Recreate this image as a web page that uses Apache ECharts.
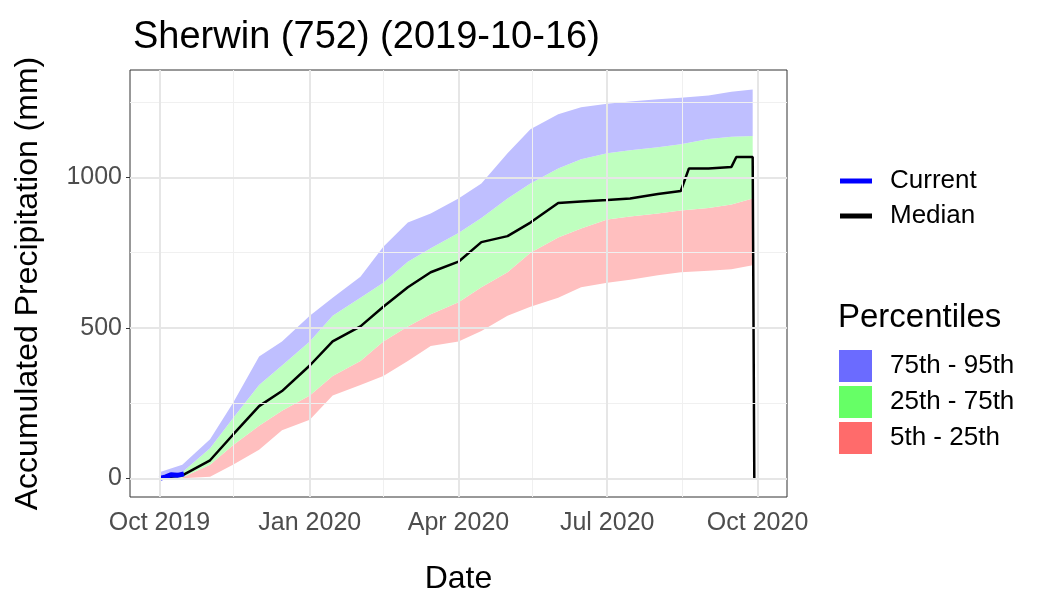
<!DOCTYPE html>
<html>
<head>
<meta charset="utf-8">
<script src="https://cdn.jsdelivr.net/npm/echarts@6/dist/echarts.min.js"></script>
<style>html,body{margin:0;padding:0;background:#fff}#c{width:1050px;height:600px}</style>
</head>
<body>
<div id="c"></div>
<script>
// dates of the percentile curves (water year Oct 2019 - Sep 2020)
const dates = ['2019-10-01','2019-10-15','2019-11-01','2019-11-15','2019-12-01','2019-12-15',
  '2020-01-01','2020-01-15','2020-02-01','2020-02-15','2020-03-01','2020-03-15','2020-04-01',
  '2020-04-15','2020-05-01','2020-05-15','2020-06-01','2020-06-15','2020-07-01','2020-07-15',
  '2020-08-01','2020-08-15','2020-09-01','2020-09-15','2020-09-28'];
const p5  = [0,0,5,45,95,160,195,275,310,340,390,440,455,490,540,570,600,635,650,660,675,685,690,695,708];
const p25 = [0,3,45,110,175,225,275,340,390,455,505,545,585,635,685,750,800,830,860,870,880,890,898,910,930];
const p75 = [5,20,100,200,310,375,455,540,600,650,720,765,815,865,930,980,1030,1060,1080,1090,1100,1110,1128,1135,1138];
const p95 = [20,45,130,250,405,455,540,600,670,770,850,880,930,980,1080,1160,1210,1233,1245,1252,1260,1265,1272,1285,1292];
const medianDates = ['2019-10-01','2019-10-15','2019-11-01','2019-11-15','2019-12-01','2019-12-15',
  '2020-01-01','2020-01-15','2020-02-01','2020-02-15','2020-03-01','2020-03-15','2020-04-01',
  '2020-04-15','2020-05-01','2020-05-15','2020-06-01','2020-06-15','2020-07-01','2020-07-15',
  '2020-08-01','2020-08-15','2020-08-20','2020-09-01','2020-09-15','2020-09-18','2020-09-28','2020-09-28'];
const median = [0,10,60,145,240,290,375,455,505,570,635,685,720,785,805,850,915,920,925,930,945,955,1030,1030,1035,1068,1068,0];
const currentDates = ['2019-10-01','2019-10-05','2019-10-08','2019-10-12','2019-10-16'];
const current = [0,5,12,10,15];
const majorX = ['2019-10-01','2020-01-01','2020-04-01','2020-07-01','2020-10-01'];
const majorXLabels = ['Oct 2019','Jan 2020','Apr 2020','Jul 2020','Oct 2020'];
const minorX = ['2019-11-15','2020-02-15','2020-05-16','2020-08-16'];
const majorY = [0,500,1000];
const minorY = [250,750,1250];

const t = d => new Date(d + 'T00:00:00Z').getTime();
const band = (arr, lo) => dates.map((d, i) => [t(d), lo ? arr[i] - lo[i] : arr[i]]);
const chart = echarts.init(document.getElementById('c'));
const grid = (c, w) => ({ silent: true, symbol: 'none', label: { show: false }, lineStyle: { color: c, width: w, type: 'solid' } });
chart.setOption({
  animation: false,
  title: { text: 'Sherwin (752) (2019-10-16)', left: 128, top: 14,
    textStyle: { fontFamily: 'Liberation Sans', fontSize: 38, fontWeight: 'normal', color: '#000' } },
  grid: { left: 130, right: 263, top: 70, bottom: 97, show: true, borderColor: '#333', borderWidth: 1 },
  xAxis: { type: 'time', min: t('2019-09-13'), max: t('2020-10-19'),
    axisLine: { show: false }, axisTick: { show: false }, axisLabel: { show: false }, splitLine: { show: false },
    name: 'Date', nameLocation: 'middle', nameGap: 66,
    nameTextStyle: { fontFamily: 'Liberation Sans', fontSize: 32, color: '#000' } },
  yAxis: { type: 'value', min: -62, max: 1357,
    axisLine: { show: false }, splitLine: { show: false },
    axisTick: { show: true, customValues: majorY, length: 4, lineStyle: { color: '#333' } },
    axisLabel: { customValues: majorY, formatter: v => String(v), fontFamily: 'Liberation Sans', fontSize: 25, color: '#4d4d4d', margin: 8 },
    name: 'Accumulated Precipitation (mm)', nameLocation: 'middle', nameGap: 86,
    nameTextStyle: { fontFamily: 'Liberation Sans', fontSize: 32, color: '#000' } },
  series: [
    { type: 'line', data: [], markLine: Object.assign(grid('#f0f0f0', 1),
        { data: minorX.map(d => ({ xAxis: t(d) })).concat(minorY.map(v => ({ yAxis: v }))) }) },
    { type: 'line', data: [], markLine: Object.assign(grid('#e6e6e6', 2),
        { data: majorY.map(v => ({ yAxis: v })) }) },
    { type: 'line', data: [], markLine: Object.assign(grid('#e6e6e6', 2),
        { label: { show: true, position: 'start', distance: 14, formatter: p => majorXLabels[p.dataIndex],
            fontFamily: 'Liberation Sans', fontSize: 25, color: '#4d4d4d' },
          data: majorX.map(d => ({ xAxis: t(d) })) }) },
    { name: 'base', type: 'line', stack: 'b', data: band(p5), symbol: 'none', lineStyle: { width: 0 } },
    { name: '5th - 25th', type: 'line', stack: 'b', data: band(p25, p5), symbol: 'none', lineStyle: { width: 0 },
      areaStyle: { color: '#ffbfbf', opacity: 1 } },
    { name: '25th - 75th', type: 'line', stack: 'b', data: band(p75, p25), symbol: 'none', lineStyle: { width: 0 },
      areaStyle: { color: '#bfffbf', opacity: 1 } },
    { name: '75th - 95th', type: 'line', stack: 'b', data: band(p95, p75), symbol: 'none', lineStyle: { width: 0 },
      areaStyle: { color: '#bfbfff', opacity: 1 } },
    { name: 'Median', type: 'line', data: medianDates.map((d, i) => [t(d) + (i === medianDates.length - 1 ? 86400000 : 0), median[i]]),
      symbol: 'none', lineStyle: { color: '#000', width: 2.5 } },
    { name: 'Current', type: 'line', data: currentDates.map((d, i) => [t(d), current[i]]),
      symbol: 'none', lineStyle: { color: '#0000ff', width: 5 } }
  ],
  graphic: [
    { type: 'line', shape: { x1: 840, y1: 181, x2: 872, y2: 181 }, style: { stroke: '#0000ff', lineWidth: 5 } },
    { type: 'text', left: 890, top: 168, style: { text: 'Current', font: '26px "Liberation Sans"', fill: '#000' } },
    { type: 'line', shape: { x1: 840, y1: 216, x2: 872, y2: 216 }, style: { stroke: '#000', lineWidth: 5 } },
    { type: 'text', left: 890, top: 203, style: { text: 'Median', font: '26px "Liberation Sans"', fill: '#000' } },
    { type: 'text', left: 838, top: 301, style: { text: 'Percentiles', font: '33px "Liberation Sans"', fill: '#000' } },
    { type: 'rect', shape: { x: 839, y: 350, width: 33, height: 32 }, style: { fill: '#6b6bff' } },
    { type: 'text', left: 890, top: 353, style: { text: '75th - 95th', font: '26px "Liberation Sans"', fill: '#000' } },
    { type: 'rect', shape: { x: 839, y: 386, width: 33, height: 32 }, style: { fill: '#66ff66' } },
    { type: 'text', left: 890, top: 389, style: { text: '25th - 75th', font: '26px "Liberation Sans"', fill: '#000' } },
    { type: 'rect', shape: { x: 839, y: 422, width: 33, height: 32 }, style: { fill: '#ff6b6b' } },
    { type: 'text', left: 890, top: 425, style: { text: '5th - 25th', font: '26px "Liberation Sans"', fill: '#000' } }
  ]
});
</script>
</body>
</html>
